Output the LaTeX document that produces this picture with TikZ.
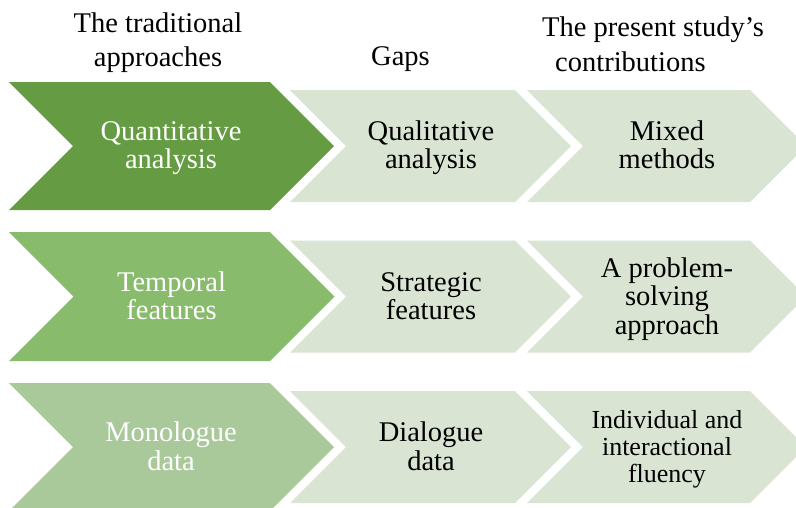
\documentclass[tikz,border=0pt]{standalone}
\usepackage{fontspec}
\setmainfont{LiberationSerif}[Extension=.ttf,UprightFont=*-Regular,BoldFont=*-Bold]
\definecolor{gA}{RGB}{100,155,67}
\definecolor{gB}{RGB}{136,187,108}
\definecolor{gC}{RGB}{170,201,155}
\definecolor{gL}{RGB}{217,228,211}
\newcommand{\chevshape}[5]{%
  \fill[#1] ({#2},{-(#4)+(#5)}) -- ({#3},{-(#4)+(#5)}) -- ({#3+#5},{-(#4)})
    -- ({#3},{-(#4)-(#5)}) -- ({#2},{-(#4)-(#5)}) -- ({#2+#5},{-(#4)}) -- cycle;}
\newcommand{\lines}[1]{\begin{tabular}[t]{@{}c@{}}#1\end{tabular}}
\begin{document}
\begin{tikzpicture}[x=1pt,y=1pt,
  lbl/.style={anchor=base,inner sep=0pt,font=\rmfamily\fontsize{28.5}{28.5}\selectfont},
  hdr/.style={anchor=base,inner sep=0pt,font=\rmfamily\fontsize{28.5}{34.4}\selectfont},
  small/.style={anchor=base,inner sep=0pt,font=\rmfamily\fontsize{26}{27}\selectfont}]
\useasboundingbox (0,0) rectangle (796,-507);
\begin{scope}
\clip (0,0) rectangle (796,-507);
% light chevrons
\chevshape{gL}{290}{515}{146}{56}
\chevshape{gL}{527}{750}{146}{56}
\chevshape{gL}{290}{515}{296.5}{56}
\chevshape{gL}{527}{750}{296.5}{56}
\chevshape{gL}{290}{515}{447}{56}
\chevshape{gL}{527}{750}{447}{56}
% dark chevrons
\chevshape{gA}{9}{270}{146}{64}
\chevshape{gB}{9}{270}{296.5}{64.5}
\chevshape{gC}{9}{270}{447}{64}
\end{scope}
% headers
\node[hdr] (h1) at (158,-32.3) {\lines{The traditional\\approaches}};
\node[hdr] (h2) at (400.5,-65) {Gaps};
\node[hdr,anchor=base west] (h3) at (542,-36.2) {\begin{tabular}[t]{@{}l@{}}The present study’s\\[1.3pt]\hspace*{13pt}contributions\end{tabular}};
% row 1
\node[lbl,text=white] (r1a) at (171,-140) {\lines{Quantitative\\analysis}};
\node[lbl] (r1b) at (431,-140) {\lines{Qualitative\\analysis}};
\node[lbl] (r1c) at (667,-140) {\lines{Mixed\\methods}};
% row 2
\node[lbl,text=white] (r2a) at (171.5,-291) {\lines{Temporal\\features}};
\node[lbl] (r2b) at (431,-291) {\lines{Strategic\\features}};
\node[lbl] (r2c) at (667,-277) {\lines{A problem-\\solving\\approach}};
% row 3
\node[lbl,text=white] (r3a) at (171,-441.7) {\lines{Monologue\\data}};
\node[lbl] (r3b) at (431,-441.7) {\lines{Dialogue\\data}};
\node[small] (r3c) at (667,-428) {\lines{Individual and\\interactional\\fluency}};
\end{tikzpicture}
\end{document}
